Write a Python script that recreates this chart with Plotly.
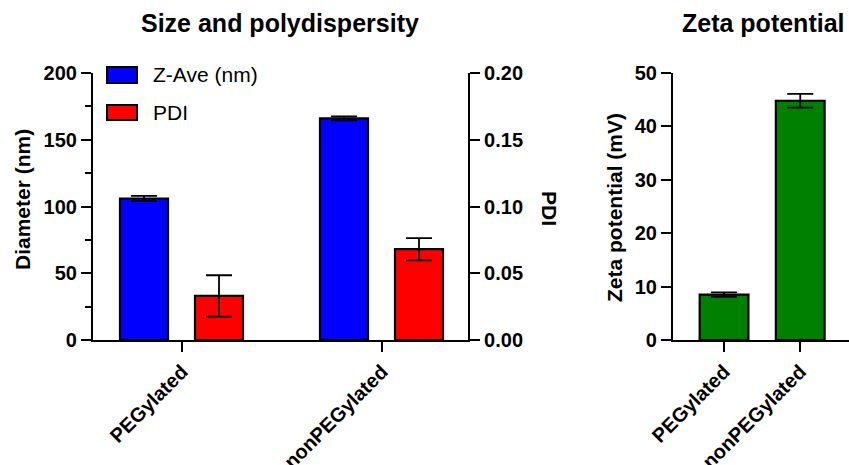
import plotly.graph_objects as go

# ---------------- data ----------------
categories = ["PEGylated", "nonPEGylated"]
zave_nm = [106, 166]
zave_err = [2.0, 1.5]
pdi = [0.033, 0.068]
pdi_err = [0.0155, 0.0083]
zeta_mv = [8.5, 44.8]
zeta_err = [0.4, 1.3]

diam_ticks = [0, 50, 100, 150, 200]
pdi_ticks = [0.00, 0.05, 0.10, 0.15, 0.20]
zeta_ticks = [0, 10, 20, 30, 40, 50]

W, H = 849, 465
FONT = "Liberation Sans, Arial, sans-serif"
BOLD_TICK = dict(family=FONT, size=20, color="black", weight="bold")

def px_x(p):
    return p / W

def px_y(p):
    return 1 - p / H

fig = go.Figure()

err_style = dict(type="data", visible=True, color="black", thickness=1.8, width=13)

fig.add_trace(go.Bar(
    x=categories, y=zave_nm, name="Z-Ave (nm)",
    error_y=dict(array=zave_err, **err_style),
    marker=dict(color="#0000ff", line=dict(color="black", width=2.2)),
    width=0.24, offset=-0.31, xaxis="x", yaxis="y", showlegend=False,
))
fig.add_trace(go.Bar(
    x=categories, y=pdi, name="PDI",
    error_y=dict(array=pdi_err, **err_style),
    marker=dict(color="#ff0000", line=dict(color="black", width=2.2)),
    width=0.24, offset=0.065, xaxis="x", yaxis="y2", showlegend=False,
))
fig.add_trace(go.Bar(
    x=categories, y=zeta_mv, name="Zeta potential",
    error_y=dict(array=zeta_err, **err_style),
    marker=dict(color="#008000", line=dict(color="black", width=2.2)),
    width=0.64, xaxis="x3", yaxis="y3", showlegend=False,
))

ydom = [px_y(340), px_y(73)]
axis_common = dict(showline=True, linecolor="black", linewidth=2.2,
                   ticks="outside", ticklen=10, tickwidth=2, tickcolor="black",
                   showgrid=False, zeroline=False, tickfont=BOLD_TICK,
                   automargin=False)

fig.update_layout(
    template="none",
    width=W, height=H,
    margin=dict(l=0, r=0, t=0, b=0, pad=0, autoexpand=False),
    plot_bgcolor="white", paper_bgcolor="white",
    barmode="overlay",
    font=dict(family=FONT, color="black"),
    xaxis=dict(domain=[px_x(93), px_x(468)], range=[-0.445, 1.43],
               tickangle=-45, anchor="y", **axis_common),
    yaxis=dict(domain=ydom, range=[0, 200], tickvals=diam_ticks,
               minor=dict(dtick=25, ticklen=6, tickwidth=2, tickcolor="black", ticks="outside"),
               anchor="x", **axis_common),
    yaxis2=dict(domain=ydom, range=[0, 0.2], tickvals=pdi_ticks, tickformat=".2f",
                overlaying="y", side="right", anchor="x", **axis_common),
    xaxis3=dict(domain=[px_x(673), 1.0], range=[-0.67, 1.64],
                tickangle=-45, anchor="y3", **axis_common),
    yaxis3=dict(domain=ydom, range=[0, 50], tickvals=zeta_ticks,
                anchor="x3", **axis_common),
)

ann = []
def add_text(text, x, y, size, bold=True, angle=0, xanchor="center"):
    ann.append(dict(text=text, x=px_x(x), y=px_y(y), xref="paper", yref="paper",
                    showarrow=False, textangle=angle, xanchor=xanchor, yanchor="middle",
                    font=dict(family=FONT, size=size, color="black",
                              weight="bold" if bold else "normal")))

add_text("Size and polydispersity", 280, 23, 25)
add_text("Zeta potential", 763, 23, 25)
add_text("Diameter (nm)", 22, 200, 21, angle=-90)
add_text("PDI", 549, 208, 21, angle=90)
add_text("Zeta potential (mV)", 615, 208, 21, angle=-90)
add_text("Z-Ave (nm)", 151, 75, 21, bold=False, xanchor="left")
add_text("PDI", 151, 112.5, 21, bold=False, xanchor="left")

shapes = []
for (y0, y1, col) in [(67, 83, "#0000ff"), (105, 120, "#ff0000")]:
    shapes.append(dict(type="rect", xref="paper", yref="paper",
                       x0=px_x(107), x1=px_x(137), y0=px_y(y1), y1=px_y(y0),
                       fillcolor=col, line=dict(color="black", width=2)))

fig.update_layout(annotations=ann, shapes=shapes)
fig.write_html("out.html", config={"displayModeBar": False},
               post_script="document.body.style.margin='0';document.body.style.overflow='hidden';")
